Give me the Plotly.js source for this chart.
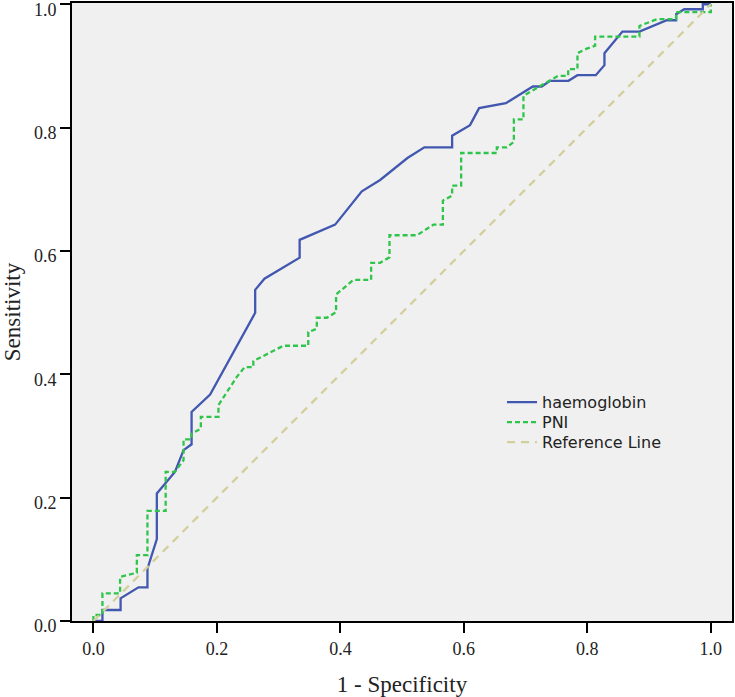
<!DOCTYPE html>
<html>
<head>
<meta charset="utf-8">
<script src="https://cdn.plot.ly/plotly-3.0.1.min.js"></script>
<style>
html,body{margin:0;padding:0;background:#fff;}
#chart{width:735px;height:697px;}
</style>
</head>
<body>
<div id="chart"></div>
<script>
// haemoglobin ROC curve
const hbX = [0, 0.0146, 0.0146, 0.044, 0.044, 0.073, 0.0875, 0.0875, 0.1027, 0.1027, 0.132, 0.146, 0.159, 0.159, 0.189, 0.262, 0.262, 0.277, 0.334, 0.334, 0.3915, 0.4347, 0.4644, 0.5086, 0.536, 0.581, 0.581, 0.610, 0.6247, 0.668, 0.7117, 0.726, 0.7397, 0.7694, 0.784, 0.8137, 0.8277, 0.8277, 0.8568, 0.8844, 0.9287, 0.9438, 0.9438, 0.957, 0.987, 0.987, 1.0];
const hbY = [0, 0, 0.0178, 0.0178, 0.0367, 0.0545, 0.0545, 0.085, 0.1327, 0.2067, 0.2417, 0.277, 0.2865, 0.339, 0.367, 0.4998, 0.537, 0.555, 0.589, 0.618, 0.6427, 0.6966, 0.715, 0.7507, 0.768, 0.768, 0.7868, 0.804, 0.8316, 0.8395, 0.8666, 0.8666, 0.8758, 0.8758, 0.885, 0.885, 0.9012, 0.9207, 0.9557, 0.9557, 0.974, 0.974, 0.9838, 0.9919, 0.9919, 1.0, 1.0];

// PNI ROC curve
const pniX = [0, 0, 0.0146, 0.0146, 0.0432, 0.0432, 0.0703, 0.0703, 0.0875, 0.0875, 0.117, 0.117, 0.132, 0.146, 0.146, 0.159, 0.159, 0.174, 0.174, 0.2025, 0.2025, 0.232, 0.245, 0.259, 0.259, 0.3077, 0.348, 0.348, 0.3618, 0.3618, 0.378, 0.393, 0.393, 0.421, 0.4498, 0.4498, 0.4644, 0.4795, 0.4795, 0.524, 0.5507, 0.566, 0.566, 0.581, 0.581, 0.5956, 0.5956, 0.6534, 0.6534, 0.6696, 0.681, 0.681, 0.6965, 0.6965, 0.729, 0.753, 0.769, 0.769, 0.784, 0.784, 0.799, 0.8126, 0.8126, 0.8844, 0.8844, 0.9125, 0.9438, 0.9438, 1.0, 1.0];
const pniY = [0, 0.0097, 0.0097, 0.0448, 0.0448, 0.0717, 0.0782, 0.1068, 0.1068, 0.1786, 0.1786, 0.2417, 0.2417, 0.2607, 0.2946, 0.2946, 0.3036, 0.312, 0.331, 0.331, 0.35, 0.3955, 0.4117, 0.4117, 0.4214, 0.4463, 0.4463, 0.4684, 0.474, 0.4917, 0.4917, 0.5007, 0.5294, 0.553, 0.553, 0.5807, 0.5807, 0.5898, 0.6254, 0.6254, 0.6427, 0.6427, 0.6816, 0.6897, 0.7058, 0.7058, 0.7588, 0.7588, 0.768, 0.768, 0.777, 0.8132, 0.8132, 0.8516, 0.8705, 0.884, 0.884, 0.8948, 0.8948, 0.9207, 0.928, 0.9328, 0.9476, 0.9476, 0.9648, 0.9757, 0.9757, 0.9873, 0.9873, 1.0];

// Reference line
const refX = [0, 1];
const refY = [0, 1];

const tickVals = [0, 0.2, 0.4, 0.6, 0.8, 1.0];
const tickText = ["0.0", "0.2", "0.4", "0.6", "0.8", "1.0"];

const traces = [
  {x: hbX, y: hbY, mode: 'lines', name: 'haemoglobin', legend: 'legend',
   line: {color: '#4157b0', width: 2.3}},
  {x: pniX, y: pniY, mode: 'lines', name: 'PNI', legend: 'legend2',
   line: {color: '#2fc44a', width: 2.3, dash: '5px,3px'}},
  {x: refX, y: refY, mode: 'lines', name: 'Reference Line', legend: 'legend3',
   line: {color: '#d3cf9c', width: 2.3, dash: '8px,6px'}}
];

const axisFont = {family: '"Liberation Serif", "DejaVu Serif", serif', size: 18, color: '#222'};
const titleFont = {family: '"Liberation Serif", "DejaVu Serif", serif', size: 23, color: '#222'};
const legFont = {family: '"DejaVu Sans", Arial, sans-serif', size: 16, color: '#222'};

function leg(y) {
  return {x: 0.6515, y: y, xanchor: 'left', yanchor: 'top',
          bgcolor: 'rgba(0,0,0,0)', borderwidth: 0, font: legFont};
}

const layout = {
  width: 735, height: 697,
  margin: {l: 72, r: 3, t: 3, b: 76, pad: 0},
  paper_bgcolor: '#ffffff',
  plot_bgcolor: '#f0f0f0',
  showlegend: true,
  legend: leg(0.3815),
  legend2: leg(0.3491),
  legend3: leg(0.3167),
  xaxis: {
    range: [-0.0347, 1.0343],
    tickvals: tickVals, ticktext: tickText,
    ticks: 'outside', ticklen: 10, tickwidth: 2, tickcolor: '#000',
    showline: true, linecolor: '#000', linewidth: 2, mirror: true,
    showgrid: false, zeroline: false,
    tickfont: axisFont,
    title: {text: '1 - Specificity', font: titleFont, standoff: 18},
    automargin: false, fixedrange: true
  },
  yaxis: {
    range: [0, 1.002],
    tickvals: tickVals, ticktext: tickText,
    ticks: 'outside', ticklen: 10, tickwidth: 2, tickcolor: '#000',
    showline: true, linecolor: '#000', linewidth: 2, mirror: true,
    showgrid: false, zeroline: false,
    tickfont: axisFont, ticklabeloverflow: 'allow', ticklabelshift: 5,
    title: {text: 'Sensitivity', font: titleFont, standoff: 14},
    automargin: false, fixedrange: true
  }
};

Plotly.newPlot('chart', traces, layout, {displayModeBar: false, staticPlot: true});
</script>
</body>
</html>
